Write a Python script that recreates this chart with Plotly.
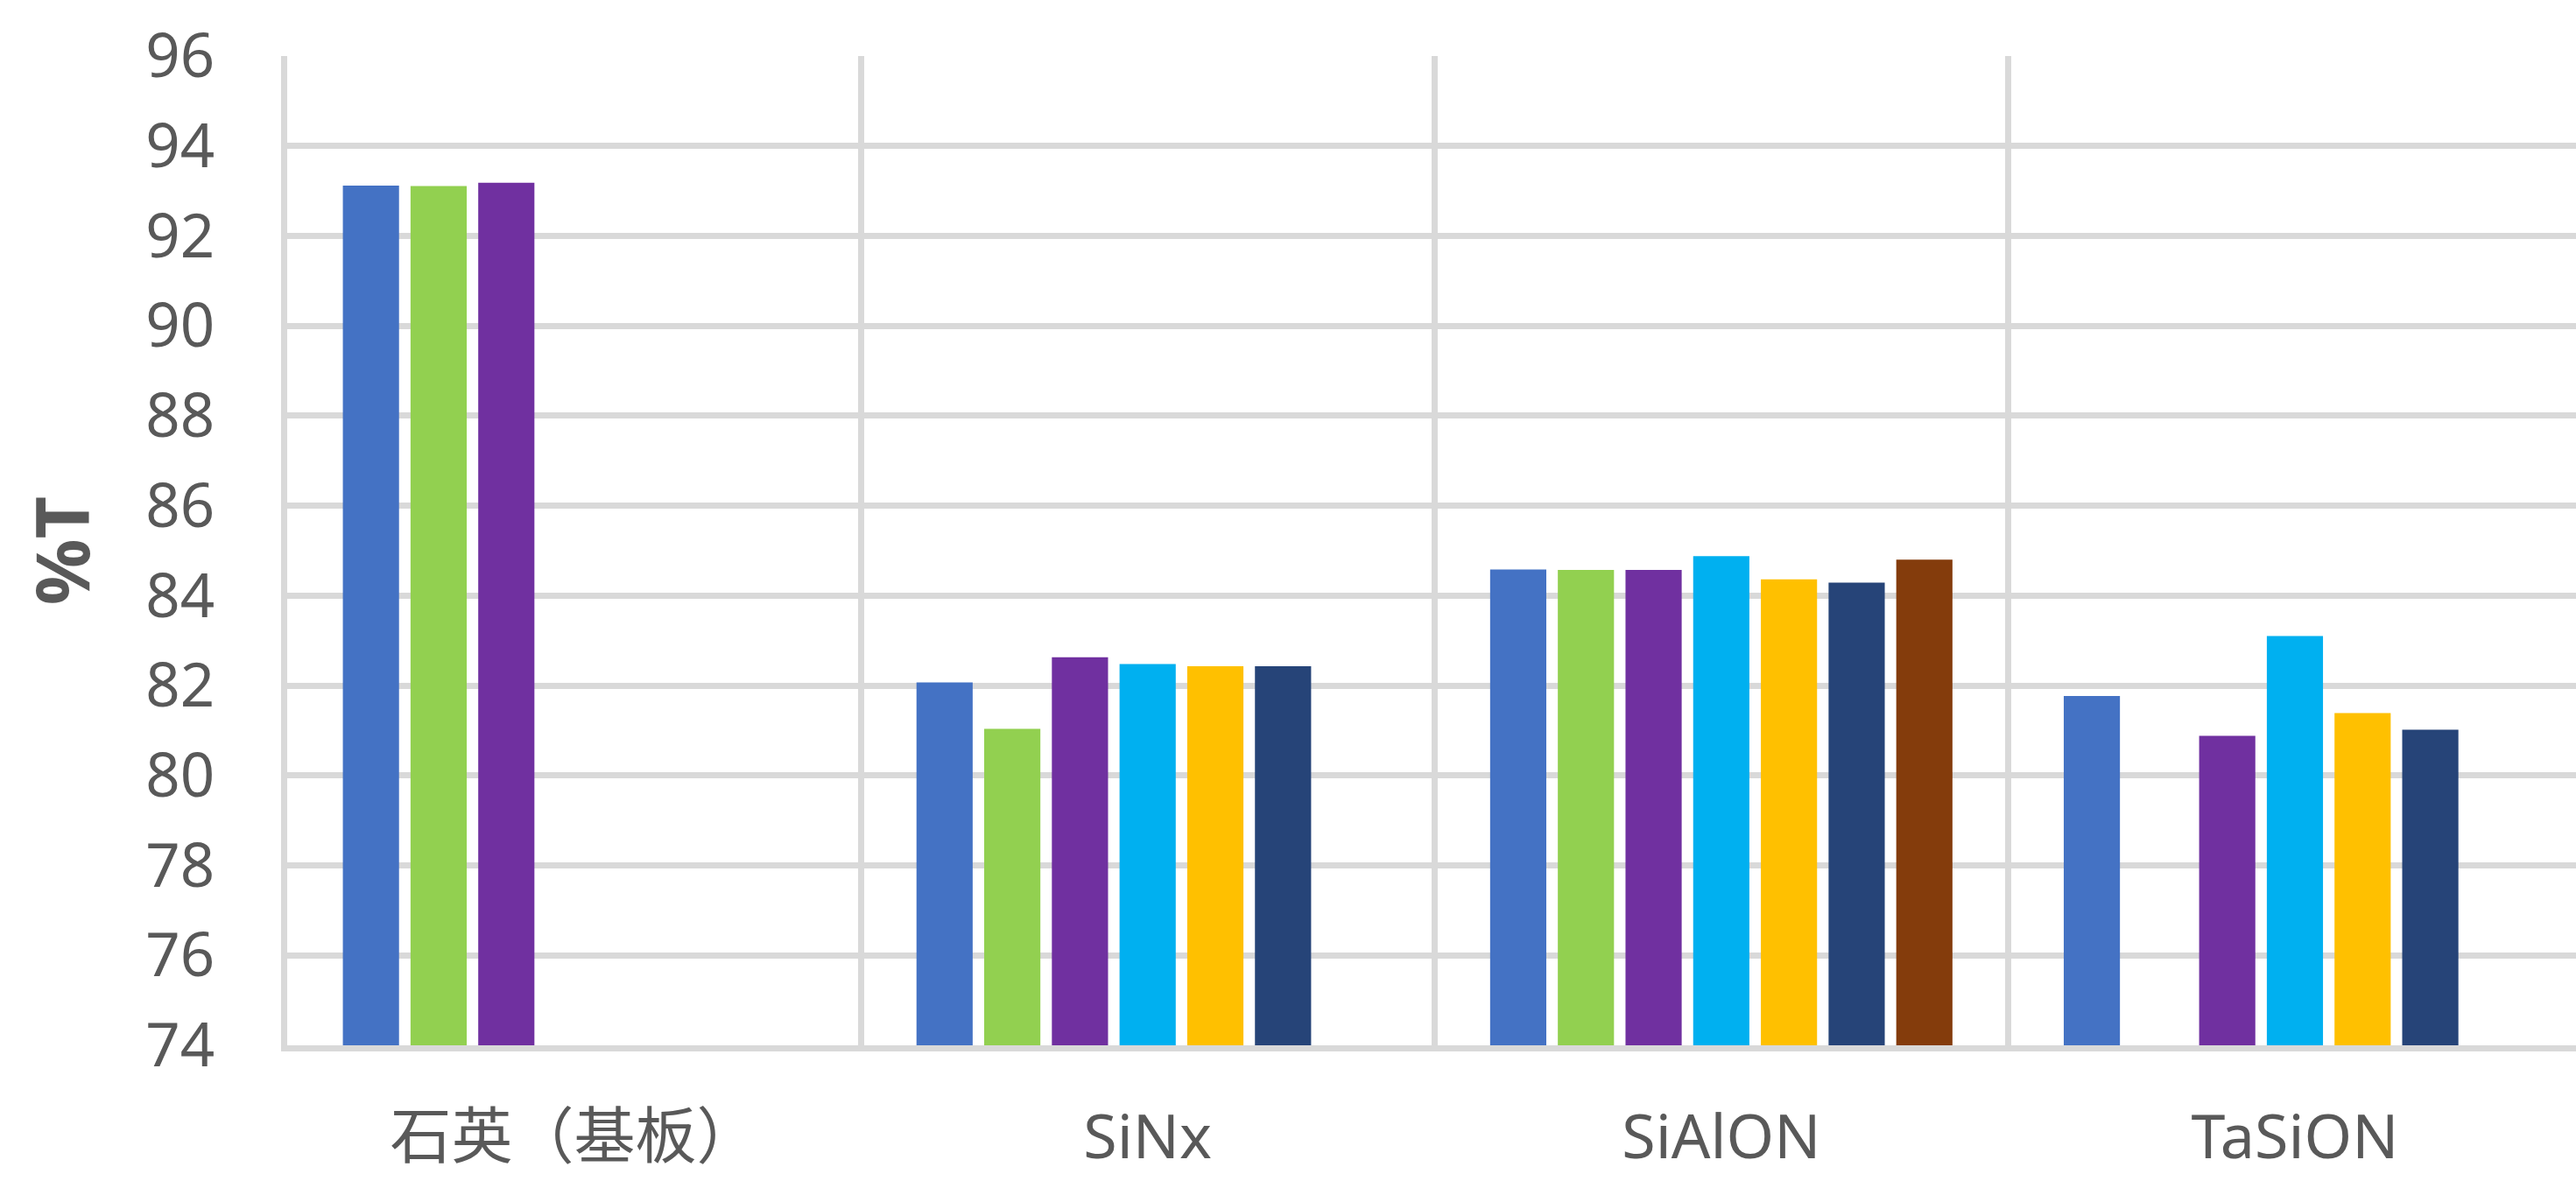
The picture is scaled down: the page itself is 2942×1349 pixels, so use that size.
import plotly.graph_objects as go

# Coating materials on the category axis
categories = ["石英（基板）", "SiNx", "SiAlON", "TaSiON"]

# Transmittance (%T) per sample; None leaves the slot empty
sample_1 = [93.12, 82.07, 84.58, 81.77]
sample_2 = [93.11, 81.04, 84.57, None]
sample_3 = [93.18, 82.63, 84.57, 80.88]
sample_4 = [None, 82.48, 84.88, 83.10]
sample_5 = [None, 82.43, 84.36, 81.39]
sample_6 = [None, 82.43, 84.29, 81.02]
sample_7 = [None, None, 84.80, None]

y_ticks = list(range(74, 97, 2))

series = [
    ("Sample 1", sample_1, "#4472C4"),
    ("Sample 2", sample_2, "#92D050"),
    ("Sample 3", sample_3, "#7030A0"),
    ("Sample 4", sample_4, "#00B0F0"),
    ("Sample 5", sample_5, "#FFC000"),
    ("Sample 6", sample_6, "#264478"),
    ("Sample 7", sample_7, "#843C0C"),
]

fig = go.Figure()
for name, values, color in series:
    fig.add_trace(go.Bar(
        x=categories,
        y=values,
        name=name,
        marker=dict(color=color, line=dict(width=0)),
    ))

grid = "#D9D9D9"
text_color = "#595959"
font_family = "Noto Sans, Noto Sans CJK SC, sans-serif"

fig.update_layout(
    width=2942,
    height=1349,
    margin=dict(l=328, r=0, t=64, b=155),
    paper_bgcolor="white",
    plot_bgcolor="white",
    barmode="group",
    bargap=0.174,
    bargroupgap=0.17,
    showlegend=False,
    font=dict(family=font_family, color=text_color, size=70),
)

fig.update_xaxes(
    type="category",
    range=[-0.5, 3.49],
    automargin=False,
    tickson="boundaries",
    showgrid=True,
    gridcolor=grid,
    gridwidth=7,
    showline=True,
    linecolor=grid,
    linewidth=7,
    ticks="",
    ticklabelstandoff=38,
    tickfont=dict(family=font_family, size=70, color=text_color),
)

fig.update_yaxes(
    range=[74, 96],
    tickvals=y_ticks,
    automargin=False,
    showgrid=True,
    gridcolor=grid,
    gridwidth=7,
    zeroline=False,
    showline=True,
    linecolor=grid,
    linewidth=7,
    ticks="",
    ticklabelstandoff=62,
    tickfont=dict(family=font_family, size=69, color=text_color),
    title=dict(
        text="<b>%T</b>",
        font=dict(family=font_family, size=84, color=text_color),
        standoff=38,
    ),
)

fig.write_html("out.html")
